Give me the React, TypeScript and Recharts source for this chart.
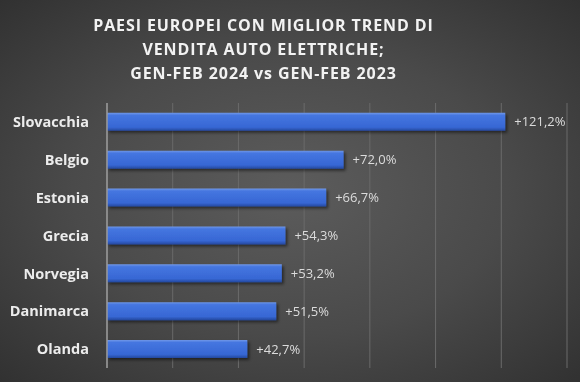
import React from "react";
import { BarChart, Bar, XAxis, YAxis, CartesianGrid, LabelList } from "recharts";

const countries = ["Slovacchia", "Belgio", "Estonia", "Grecia", "Norvegia", "Danimarca", "Olanda"];
const growth = [121.2, 72.0, 66.7, 54.3, 53.2, 51.5, 42.7];
const xTicks = [0, 20, 40, 60, 80, 100, 120, 140];
const titleLines = [
  "PAESI EUROPEI CON MIGLIOR TREND DI",
  "VENDITA AUTO ELETTRICHE;",
  "GEN-FEB 2024 vs GEN-FEB 2023",
];

const data = countries.map((c, i) => ({ name: c, value: growth[i] }));

const fmt = (v: any) => "+" + Number(v).toFixed(1).replace(".", ",") + "%";

export default function App() {
  return (
    <div
      style={{
        position: "fixed",
        top: 0,
        left: 0,
        width: 580,
        height: 382,
        background: "radial-gradient(ellipse 75% 75% at 50% 50%, #5c5c5c 0%, #4a4a4a 50%, #2e2e2e 100%)",
        overflow: "hidden",
      }}
    >
      <div
        style={{
          position: "absolute",
          top: 13,
          left: 0,
          width: 527,
          textAlign: "center",
          color: "#f2f2f2",
          fontFamily: "'Open Sans', sans-serif",
          fontWeight: 700,
          fontSize: 16,
          lineHeight: "24px",
          letterSpacing: 0.9,
        }}
      >
        {titleLines.map((t) => (
          <div key={t}>{t}</div>
        ))}
      </div>
      <div style={{ position: "absolute", top: 0, left: 0 }}>
        <BarChart
          width={580}
          height={382}
          data={data}
          layout="vertical"
          margin={{ top: 103, right: 13, bottom: 14, left: 0 }}
          barCategoryGap="26%"
        >
          <defs>
            <linearGradient id="barGrad" x1="0" y1="0" x2="0" y2="1">
              <stop offset="0%" stopColor="#7098e8" />
              <stop offset="14%" stopColor="#4576e0" />
              <stop offset="80%" stopColor="#3767d4" />
              <stop offset="100%" stopColor="#24489e" />
            </linearGradient>
            <filter id="barShadow" x="-5%" y="-30%" width="115%" height="180%">
              <feDropShadow dx="2" dy="2" stdDeviation="1.5" floodColor="#000" floodOpacity="0.5" />
            </filter>
          </defs>
          <CartesianGrid horizontal={false} vertical={true} stroke="#6a6a6a" strokeWidth={1} />
          <XAxis type="number" domain={[0, 140]} ticks={xTicks} hide />
          <YAxis
            type="category"
            dataKey="name"
            width={107}
            axisLine={{ stroke: "#9a9a9a", strokeWidth: 1.5 }}
            tickLine={false}
            tick={{ fill: "#ececec", fontSize: 14.5, fontWeight: 700, fontFamily: "'Open Sans', sans-serif" }}
            tickMargin={12}
          />
          <Bar dataKey="value" fill="url(#barGrad)" filter="url(#barShadow)" isAnimationActive={false}>
            <LabelList
              dataKey="value"
              position="right"
              offset={9}
              formatter={fmt}
              style={{ fill: "#dcdcdc", fontSize: 13, fontFamily: "'Open Sans', sans-serif" }}
            />
          </Bar>
        </BarChart>
      </div>
    </div>
  );
}
